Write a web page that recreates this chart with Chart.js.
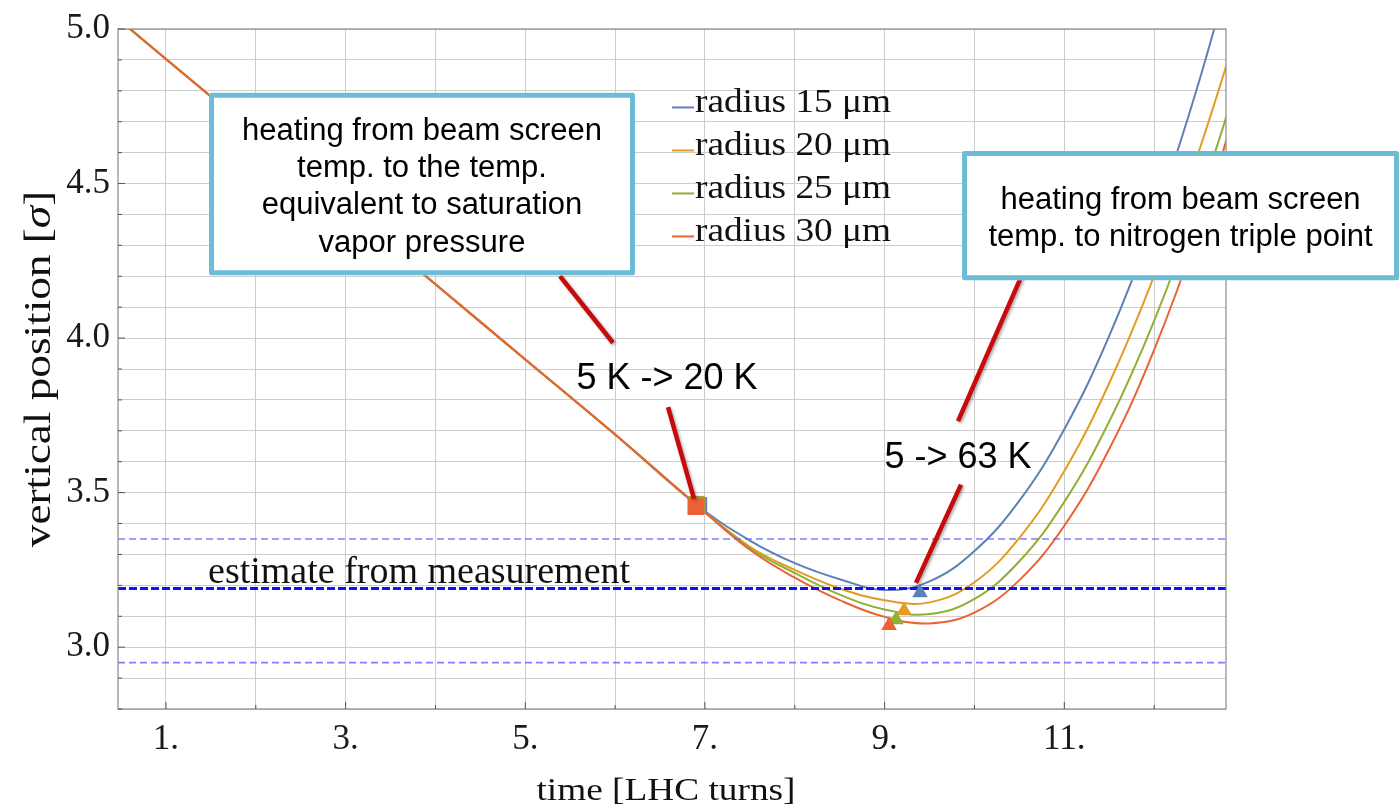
<!DOCTYPE html>
<html>
<head>
<meta charset="utf-8">
<script src="https://cdn.jsdelivr.net/npm/chart.js@4.4.1/dist/chart.umd.min.js"></script>
<style>
    html, body { margin: 0; padding: 0; background: #fff; }
    #wrap { width: 1400px; height: 808px; }
</style>
</head>
<body>
<div id="wrap"><canvas id="chart-trajectory" width="1400" height="808"></canvas></div>
<script>
// time samples [LHC turns], shared by all four curves
const turns = [0.4, 1, 2, 3, 4, 5, 6, 6.9, 7.5, 8, 8.5, 9, 9.5, 10, 10.5, 11, 11.5, 12, 12.5, 13];

// vertical position [sigma] per particle radius
const pos15 = [5.049, 4.903, 4.66, 4.417, 4.174, 3.931, 3.688, 3.462, 3.345, 3.272, 3.22, 3.185, 3.213, 3.311, 3.474, 3.705, 4.007, 4.381, 4.83, 5.354];
const pos20 = [5.049, 4.903, 4.66, 4.417, 4.174, 3.931, 3.688, 3.462, 3.325, 3.25, 3.19, 3.152, 3.145, 3.21, 3.354, 3.57, 3.854, 4.201, 4.606, 5.065];
const pos25 = [5.049, 4.903, 4.66, 4.417, 4.174, 3.931, 3.688, 3.462, 3.32, 3.24, 3.17, 3.122, 3.107, 3.156, 3.278, 3.47, 3.73, 4.056, 4.446, 4.896];
const pos30 = [5.049, 4.903, 4.66, 4.417, 4.174, 3.931, 3.688, 3.462, 3.315, 3.225, 3.152, 3.098, 3.077, 3.112, 3.217, 3.393, 3.641, 3.962, 4.357, 4.83];

const radii = ["radius 15 \u03bcm", "radius 20 \u03bcm", "radius 25 \u03bcm", "radius 30 \u03bcm"];
const colors = ["#5e81b5", "#e19c24", "#8fb032", "#eb6235"];

// 5 K -> 20 K (squares) and 5 -> 63 K (triangles)
const heat20X = [6.93, 6.91, 6.905, 6.9];
const heat20Y = [3.458, 3.458, 3.462, 3.455];
const heat63X = [9.394, 9.216, 9.127, 9.049];
const heat63Y = [3.176, 3.118, 3.089, 3.07];

// measured position and its band
const estimate = 3.19;
const estimateHi = 3.35;
const estimateLo = 2.95;

// axes
const xMin = 0.466, xMax = 12.8;
const yMin = 2.8, yMax = 5.0;
const xGrid = [1, 2, 3, 4, 5, 6, 7, 8, 9, 10, 11, 12];
const yGrid = [2.8, 2.9, 3.0, 3.1, 3.2, 3.3, 3.4, 3.5, 3.6, 3.7, 3.8, 3.9, 4.0, 4.1, 4.2, 4.3, 4.4, 4.5, 4.6, 4.7, 4.8, 4.9, 5.0];

const serif = "'Liberation Serif', 'Times New Roman', serif";
const sans = "'Liberation Sans', Arial, sans-serif";
const isHalf = (v) => Math.abs(v * 2 - Math.round(v * 2)) < 1e-6;

const series = [pos15, pos20, pos25, pos30];
const datasets = [];

series.forEach((vals, i) => {
    // markers, red on top
    datasets.push({
        label: radii[i] + " heating",
        data: [
            { x: heat20X[i], y: heat20Y[i] },
            { x: heat63X[i], y: heat63Y[i] },
        ],
        showLine: false,
        pointStyle: ["rect", "triangle"],
        pointRadius: [12, 9],
        pointBackgroundColor: colors[i],
        pointBorderWidth: 0,
        order: 3 - i,
    });
    datasets.push({
        label: radii[i],
        data: turns.map((t, k) => ({ x: t, y: vals[k] })),
        borderColor: colors[i],
        borderWidth: 2,
        pointRadius: 0,
        tension: 0.4,
        fill: false,
        order: 8 - i,
    });
});

[
    { v: estimateHi, color: "rgba(95,95,255,0.8)", w: 1.6, dash: [7, 4] },
    { v: estimate, color: "#1010ff", w: 3, dash: [8, 3] },
    { v: estimateLo, color: "rgba(95,95,255,0.8)", w: 1.6, dash: [7, 4] },
].forEach((d) => {
    datasets.push({
        label: "estimate",
        data: [{ x: xMin, y: d.v }, { x: xMax, y: d.v }],
        borderColor: d.color,
        borderWidth: d.w,
        borderDash: d.dash,
        pointRadius: 0,
        order: 4,
    });
});

// text stretched along its own direction
function stretchText(ctx, text, x, y, sx, align) {
    ctx.save();
    ctx.translate(x, y);
    ctx.scale(sx, 1);
    ctx.textAlign = align;
    ctx.fillText(text, 0, 0);
    ctx.restore();
}

// Plugin decor: frame, inward ticks, titles, legend, callouts
const decorPlugin = {
    id: "decor",
    afterDraw(chart) {
        const { ctx, chartArea: a } = chart;
        const xs = chart.scales.x;
        const ys = chart.scales.y;
        const px = (v) => xs.getPixelForValue(v);
        const py = (v) => ys.getPixelForValue(v);

        ctx.save();
        // frame
        ctx.strokeStyle = "#8a8a8a";
        ctx.lineWidth = 1.2;
        ctx.strokeRect(a.left, a.top, a.right - a.left, a.bottom - a.top);

        // inward ticks
        ctx.strokeStyle = "#555";
        ctx.lineWidth = 1;
        xGrid.forEach((v) => {
            const len = v % 2 === 1 ? 7 : 4;
            ctx.beginPath();
            ctx.moveTo(px(v), a.bottom);
            ctx.lineTo(px(v), a.bottom - len);
            ctx.stroke();
        });
        yGrid.forEach((v) => {
            const len = isHalf(v) ? 7 : 4;
            ctx.beginPath();
            ctx.moveTo(a.left, py(v));
            ctx.lineTo(a.left + len, py(v));
            ctx.stroke();
        });

        ctx.fillStyle = "#111";
        ctx.textBaseline = "alphabetic";

        // axis titles
        ctx.font = `32px ${serif}`;
        stretchText(ctx, "time [LHC turns]", 666, 800, 1.166, "center");

        ctx.save();
        ctx.translate(50, (a.top + a.bottom) / 2);
        ctx.rotate(-Math.PI / 2);
        ctx.scale(1.19, 1);
        const parts = [
            ["vertical position [", `38px ${serif}`],
            ["\u03c3", `italic 38px ${serif}`],
            ["]", `38px ${serif}`],
        ];
        let total = 0;
        parts.forEach(([t, f]) => { ctx.font = f; total += ctx.measureText(t).width; });
        let cx = -total / 2;
        ctx.textAlign = "left";
        parts.forEach(([t, f]) => {
            ctx.font = f;
            ctx.fillText(t, cx, 0);
            cx += ctx.measureText(t).width;
        });
        ctx.restore();

        // legend
        const lx = px(6.633);
        const ly = py(4.73);
        ctx.font = `33px ${serif}`;
        radii.forEach((name, i) => {
            const base = ly + i * 43;
            ctx.strokeStyle = colors[i];
            ctx.lineWidth = 2;
            ctx.beginPath();
            ctx.moveTo(lx, base - 5);
            ctx.lineTo(lx + 22, base - 5);
            ctx.stroke();
            stretchText(ctx, name, lx + 23, base, 1.13, "left");
        });

        // measurement label
        ctx.font = `38px ${serif}`;
        ctx.textAlign = "left";
        ctx.fillText("estimate from measurement", px(1.468), py(estimate) - 5);

        // red pointers
        ctx.save();
        ctx.strokeStyle = "#c80a0a";
        ctx.lineWidth = 4.5;
        ctx.shadowColor = "rgba(0,0,0,0.35)";
        ctx.shadowBlur = 3;
        ctx.shadowOffsetX = 1.5;
        ctx.shadowOffsetY = 1.5;
        [
            [5.386, 4.2003, 5.976, 3.985],
            [6.589, 3.7763, 6.878, 3.4809],
            [10.518, 4.197, 9.817, 3.7314],
            [9.85, 3.5258, 9.349, 3.2079],
        ].forEach(([x1, y1, x2, y2]) => {
            ctx.beginPath();
            ctx.moveTo(px(x1), py(y1));
            ctx.lineTo(px(x2), py(y2));
            ctx.stroke();
        });
        ctx.restore();

        // callout boxes
        const boxes = [
            {
                x1: 1.479, y1: 4.794, x2: 6.221, y2: 4.2035,
                lines: ["heating from beam screen", "temp. to the temp.", "equivalent to saturation", "vapor pressure"],
                first: 47,
            },
            {
                x1: 9.862, y1: 4.605, x2: 14.726, y2: 4.1874,
                lines: ["heating from beam screen", "temp. to nitrogen triple point"],
                first: 58,
            },
        ];
        boxes.forEach((b) => {
            const l = px(b.x1), t = py(b.y1), r = px(b.x2), btm = py(b.y2);
            ctx.fillStyle = "#fff";
            ctx.fillRect(l, t, r - l, btm - t);
            ctx.strokeStyle = "#6cbcd8";
            ctx.lineWidth = 5;
            ctx.lineJoin = "round";
            ctx.strokeRect(l + 2.5, t + 2.5, r - l - 5, btm - t - 5);
            ctx.fillStyle = "#000";
            ctx.font = `31px ${sans}`;
            ctx.textAlign = "center";
            b.lines.forEach((s, k) => {
                ctx.fillText(s, (l + r) / 2, t + b.first + k * 37.4);
            });
        });

        // transition labels
        ctx.font = `36px ${sans}`;
        ctx.textAlign = "center";
        ctx.fillText("5 K -> 20 K", px(6.578), py(3.834));
        ctx.fillText("5 -> 63 K", px(9.817), py(3.58));

        ctx.restore();
    },
};

new Chart(document.getElementById("chart-trajectory"), {
    type: "line",
    data: { datasets },
    options: {
        responsive: false,
        animation: false,
        events: [],
        layout: { padding: { top: 24, right: 174, left: 0, bottom: 0 } },
        plugins: {
            legend: { display: false },
            tooltip: { enabled: false },
        },
        scales: {
            x: {
                type: "linear",
                min: xMin,
                max: xMax,
                afterBuildTicks: (s) => { s.ticks = xGrid.map((v) => ({ value: v })); },
                afterFit: (s) => { s.height = 99; },
                grid: { color: "#cdcdcd", drawTicks: false },
                border: { display: false },
                ticks: {
                    autoSkip: false,
                    maxRotation: 0,
                    padding: 10,
                    color: "#1a1a1a",
                    font: { family: serif, size: 35 },
                    callback: (v) => (v % 2 === 1 ? v + "." : ""),
                },
            },
            y: {
                type: "linear",
                min: yMin,
                max: yMax,
                afterBuildTicks: (s) => { s.ticks = yGrid.map((v) => ({ value: v })); },
                afterFit: (s) => { s.width = 118; },
                grid: { color: "#cdcdcd", drawTicks: false },
                border: { display: false },
                ticks: {
                    autoSkip: false,
                    padding: 8,
                    color: "#1a1a1a",
                    font: { family: serif, size: 35 },
                    callback: (v) => (isHalf(v) ? v.toFixed(1) : ""),
                },
            },
        },
    },
    plugins: [decorPlugin],
});
</script>
</body>
</html>
